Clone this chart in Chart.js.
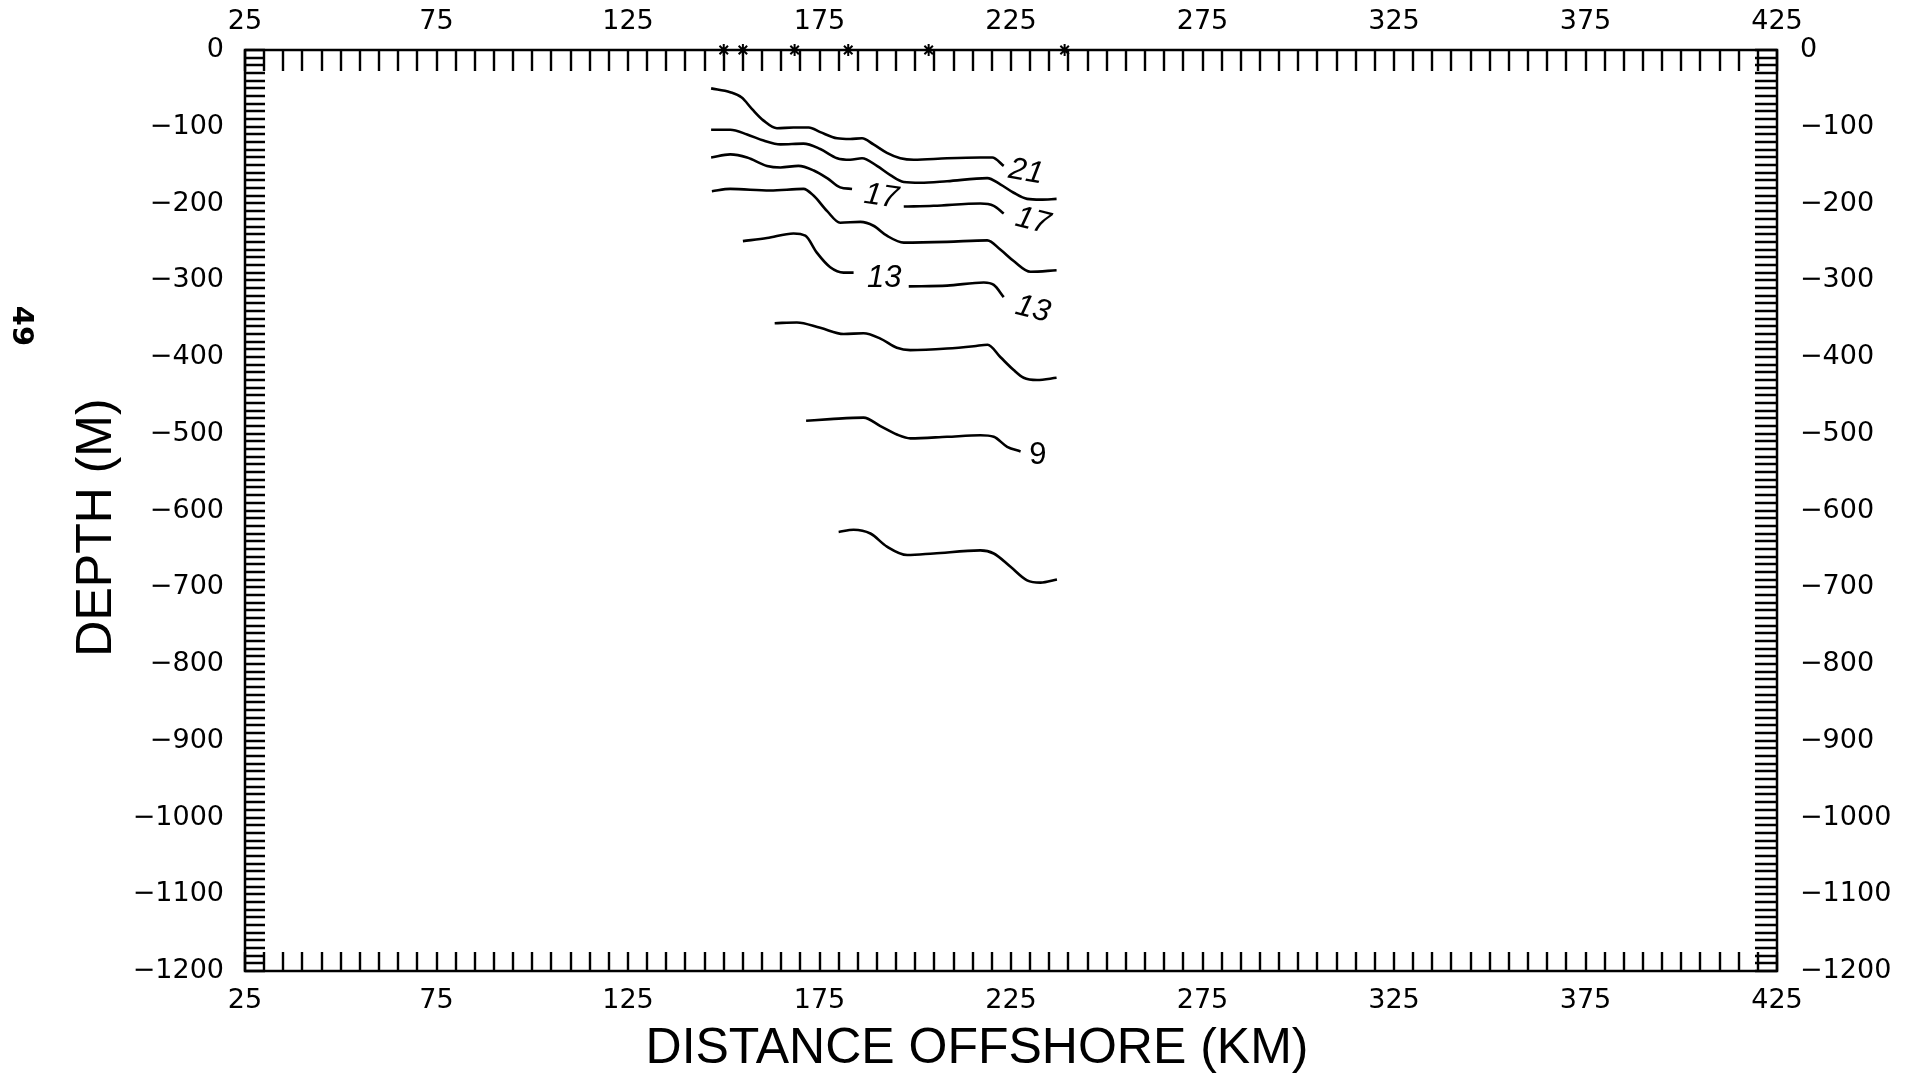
<!DOCTYPE html>
<html>
<head>
<meta charset="utf-8">
<title>Depth section</title>
<script src="https://cdn.jsdelivr.net/npm/chart.js@4.4.1/dist/chart.umd.min.js"></script>
<style>
  html, body { margin: 0; padding: 0; background: #fff; }
  canvas { display: block; }
</style>
</head>
<body>
<canvas id="section" width="1923" height="1078"></canvas>
<script>
// ---------- DATA ----------
const xTicks = [25, 75, 125, 175, 225, 275, 325, 375, 425];
const yTicks = [0, -100, -200, -300, -400, -500, -600, -700, -800, -900, -1000, -1100, -1200];
const stationKm = [150, 155, 168.5, 182.5, 203.5, 239];

// contour lines: distance (km) / depth (m), null = gap for the label
const c1Km = [146.7, 151.7, 154.7, 157.4, 160.4, 163.9, 168.2, 172.2, 175.2, 179.6, 183.0, 186.1, 189.1, 192.6, 196.1, 199.6, 208.3, 217.0, 220.1, 223.1];
const c1Depth = [-50, -55, -62, -77, -92, -102, -101, -101, -107, -115, -116, -115, -123, -134, -141, -143, -141, -140, -140, -151];

const c2Km = [146.7, 151.7, 156.1, 160.4, 164.8, 170.8, 175.2, 179.6, 183.0, 186.1, 190.0, 193.5, 197.0, 201.3, 208.3, 218.8, 222.2, 225.7, 229.2, 232.7, 236.9];
const c2Depth = [-104, -104, -110, -118, -123, -122, -129, -141, -143, -141, -151, -163, -172, -173, -171, -167, -175, -186, -194, -195, -194];

const c3Km = [146.7, 151.7, 156.1, 161.3, 164.8, 169.5, 173.5, 177.0, 180.4, 183.5, 190.0, 197.0, 204.8, 217.0, 220.5, 223.1];
const c3Depth = [-140, -136, -140, -151, -153, -151, -157, -167, -179, -181, null, -204, -203, -200, -203, -213];

const c4Km = [146.9, 151.7, 162.1, 170.8, 173.5, 177.0, 180.4, 185.7, 189.1, 192.6, 197.0, 208.3, 218.8, 222.2, 225.7, 230.1, 236.9];
const c4Depth = [-184, -181, -183, -181, -190, -210, -225, -224, -229, -242, -251, -250, -248, -260, -275, -289, -287];

const c5Km = [155.0, 161.3, 168.2, 171.3, 174.3, 177.8, 181.3, 183.9, 191.0, 198.3, 208.3, 217.9, 220.5, 223.1];
const c5Depth = [-249, -245, -239, -242, -264, -283, -290, -290, null, -308, -307, -303, -306, -322];

const c6Km = [163.3, 169.1, 175.2, 181.3, 186.5, 190.9, 195.2, 198.7, 208.3, 215.3, 218.9, 222.2, 225.7, 228.3, 231.8, 236.9];
const c6Depth = [-356, -355, -362, -370, -369, -376, -388, -391, -389, -386, -384, -400, -417, -427, -430, -427];

const c7Km = [171.5, 177.8, 186.5, 190.9, 195.2, 198.7, 208.3, 217.0, 220.5, 224.0, 227.5];
const c7Depth = [-483, -481, -479, -490, -501, -506, -504, -502, -504, -517, -523];

const c8Km = [180.0, 183.9, 188.3, 192.6, 197.9, 204.8, 217.0, 220.5, 224.8, 229.2, 232.7, 237.0];
const c8Depth = [-628, -625, -630, -647, -658, -656, -652, -656, -673, -691, -694, -690];

// contour labels
const labelText = ["21", "17", "17", "13", "13", "9"];
const labelKm = [228.9, 191.1, 230.7, 191.9, 230.7, 232.0];
const labelDepth = [-159, -191, -223, -298, -338, -528];

// ---------- STYLE ----------
const labelAngle = [10, 8, 14, 0, 14, 0];
const tickFont = { family: "'DejaVu Sans', sans-serif", size: 27 };
Chart.defaults.color = "#000";

const contours = [
  [c1Km, c1Depth], [c2Km, c2Depth], [c3Km, c3Depth], [c4Km, c4Depth],
  [c5Km, c5Depth], [c6Km, c6Depth], [c7Km, c7Depth], [c8Km, c8Depth]
];

const datasets = contours.map(([km, depth]) => ({
  type: "line",
  data: km.map((x, i) => ({ x, y: depth[i] })),
  borderColor: "#000",
  borderWidth: 2.6,
  pointRadius: 0,
  cubicInterpolationMode: "monotone",
  spanGaps: false,
  fill: false
}));
datasets.push({
  type: "scatter",
  data: stationKm.map(x => ({ x, y: 0 })),
  pointStyle: "star",
  pointRadius: 6,
  borderColor: "#000",
  borderWidth: 2,
  clip: false
});

function minus(v) { return v < 0 ? "\u2212" + Math.abs(v) : String(v); }

function xAxis(position, height, padding) {
  return {
    type: "linear", position, min: 25, max: 425,
    afterBuildTicks: s => { s.ticks = xTicks.map(v => ({ value: v })); },
    afterFit: s => { s.height = height; },
    grid: { display: false, drawTicks: false },
    border: { display: false },
    ticks: { padding, font: tickFont, color: "#000", maxRotation: 0, autoSkip: false }
  };
}
function yAxis(position, width, padding) {
  return {
    type: "linear", position, min: -1200, max: 0,
    afterBuildTicks: s => { s.ticks = yTicks.map(v => ({ value: v })); },
    afterFit: s => { s.width = width; },
    grid: { display: false, drawTicks: false },
    border: { display: false },
    ticks: { padding, font: tickFont, color: "#000", autoSkip: false, callback: v => minus(v) }
  };
}

// frame, inward ticks, contour labels, axis titles
const decor = {
  id: "decor",
  afterDraw(chart) {
    const { ctx, chartArea: a, scales } = chart;
    const xs = scales.x, ys = scales.y;
    ctx.save();
    ctx.strokeStyle = "#000";
    ctx.fillStyle = "#000";
    ctx.lineWidth = 2.5;
    ctx.strokeRect(a.left, a.top, a.right - a.left, a.bottom - a.top);

    ctx.lineWidth = 2.4;
    ctx.beginPath();
    for (let v = 25; v <= 425; v += 5) {
      const px = Math.round(xs.getPixelForValue(v));
      ctx.moveTo(px, a.top); ctx.lineTo(px, a.top + 21);
      ctx.moveTo(px, a.bottom); ctx.lineTo(px, a.bottom - 19);
    }
    for (let v = 0; v >= -1200; v -= 10) {
      const py = Math.round(ys.getPixelForValue(v));
      ctx.moveTo(a.left, py); ctx.lineTo(a.left + 20, py);
      ctx.moveTo(a.right, py); ctx.lineTo(a.right - 22, py);
    }
    ctx.stroke();

    ctx.textAlign = "center";
    ctx.textBaseline = "middle";
    labelText.forEach((t, i) => {
      ctx.save();
      ctx.translate(xs.getPixelForValue(labelKm[i]), ys.getPixelForValue(labelDepth[i]));
      ctx.rotate(labelAngle[i] * Math.PI / 180);
      ctx.font = (t === "9" ? "" : "italic ") + "31px 'Liberation Sans', sans-serif";
      ctx.fillText(t, 0, 0);
      ctx.restore();
    });

    ctx.font = "50px 'Liberation Sans', sans-serif";
    ctx.fillText("DISTANCE OFFSHORE (KM)", (a.left + a.right) / 2 - 34, a.bottom + 78);
    ctx.save();
    ctx.translate(97, (a.top + a.bottom) / 2 + 17);
    ctx.rotate(-Math.PI / 2);
    ctx.fillText("DEPTH (M)", 0, 0);
    ctx.restore();

    // page number
    ctx.save();
    ctx.translate(21, 326);
    ctx.rotate(Math.PI / 2);
    ctx.font = "bold 29px 'DejaVu Sans', sans-serif";
    ctx.fillText("49", 0, 0);
    ctx.restore();
    ctx.restore();
  }
};

new Chart(document.getElementById("section"), {
  data: { datasets },
  options: {
    responsive: false,
    animation: false,
    events: [],
    layout: { padding: 0 },
    plugins: { legend: { display: false }, tooltip: { enabled: false } },
    scales: {
      x: xAxis("bottom", 1078 - 971, 14),
      x2: xAxis("top", 50, 12),
      y: yAxis("left", 245, 21),
      y2: yAxis("right", 1923 - 1777, 23)
    }
  },
  plugins: [decor]
});
</script>
</body>
</html>
